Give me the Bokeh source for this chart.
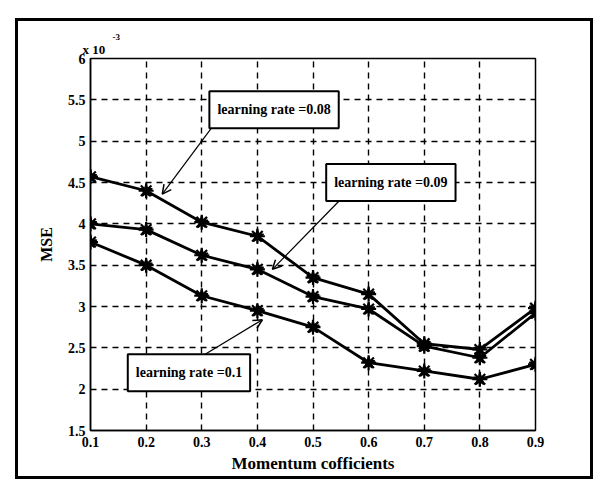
from bokeh.plotting import figure
from bokeh.models import (Range1d, FixedTicker, Label, Arrow, OpenHead,
                          Title, InlineStyleSheet)
from bokeh.embed import file_html
from bokeh.resources import INLINE

# momentum coefficient values on the x axis
momentum = [0.1, 0.2, 0.3, 0.4, 0.5, 0.6, 0.7, 0.8, 0.9]

# MSE (x 10^-3) for each learning rate
mse_lr008 = [4.57, 4.40, 4.02, 3.85, 3.35, 3.15, 2.55, 2.48, 2.98]
mse_lr009 = [4.00, 3.93, 3.62, 3.45, 3.12, 2.97, 2.52, 2.38, 2.92]
mse_lr010 = [3.78, 3.50, 3.13, 2.95, 2.75, 2.32, 2.22, 2.12, 2.30]

x_ticks = [0.1, 0.2, 0.3, 0.4, 0.5, 0.6, 0.7, 0.8, 0.9]
y_ticks = [1.5, 2, 2.5, 3, 3.5, 4, 4.5, 5, 5.5, 6]

SERIF = "Liberation Serif"

p = figure(width=597, height=483, output_backend="svg", toolbar_location=None,
           x_range=Range1d(0.1, 0.9), y_range=Range1d(1.5, 6.0),
           min_border_left=90, min_border_right=62,
           min_border_top=58, min_border_bottom=53)
p.background_fill_color = "white"
p.border_fill_color = "white"
p.outline_line_color = "black"
p.outline_line_width = 1.5

for ax in (p.xaxis[0], p.yaxis[0]):
    ax.axis_line_color = "black"
    ax.axis_line_width = 1.5
    ax.major_tick_in = 5
    ax.major_tick_out = 0
    ax.minor_tick_line_color = None
    ax.major_tick_line_color = "black"
    ax.major_label_text_font = SERIF
    ax.major_label_text_font_style = "bold"
    ax.major_label_text_font_size = "14px"
    ax.major_label_text_color = "black"
    ax.axis_label_text_font = SERIF
    ax.axis_label_text_font_style = "bold"
    ax.axis_label_text_color = "black"

p.xaxis.ticker = FixedTicker(ticks=x_ticks)
p.yaxis.ticker = FixedTicker(ticks=y_ticks)
p.xaxis.major_label_overrides = {t: f"{t:.1f}" for t in x_ticks}
p.yaxis.major_label_overrides = {t: (f"{t:g}") for t in y_ticks}
p.xaxis.axis_label = "Momentum cofficients"
p.yaxis.axis_label = "MSE"
p.xaxis.axis_label_text_font_size = "17px"
p.yaxis.axis_label_text_font_size = "16px"
p.xaxis.major_label_standoff = 6
p.yaxis.major_label_standoff = 5
p.xaxis.axis_label_standoff = 4
p.yaxis.axis_label_standoff = 10

p.grid.grid_line_color = "black"
p.grid.grid_line_dash = "6 5"
p.grid.grid_line_width = 1.4
p.xgrid.ticker = FixedTicker(ticks=x_ticks)
p.ygrid.ticker = FixedTicker(ticks=y_ticks)

for ys in (mse_lr008, mse_lr009, mse_lr010):
    p.line(momentum, ys, line_color="black", line_width=2.8)
    p.scatter(momentum, ys, marker="star", size=13, fill_color="black",
              line_color="black", line_width=1.5)
    p.scatter(momentum, ys, marker="asterisk", size=15,
              line_color="black", line_width=2.2)

# exponent note above the y axis: superscript sits on the outer row
p.title = Title(text="-3", align="left", offset=22, standoff=-4,
                text_font=SERIF, text_font_size="9px",
                text_font_style="bold", text_color="black")
p.add_layout(Title(text="x 10", align="left", offset=-8, standoff=4,
                   text_font=SERIF, text_font_size="13px",
                   text_font_style="bold", text_color="black"), "above")

# callout boxes with arrows pointing at each curve
callouts = [
    ("learning rate =0.08", 0.43, 5.38, (0.321, 5.19), (0.229, 4.36)),
    ("learning rate =0.09", 0.64, 4.50, (0.546, 4.27), (0.427, 3.45)),
    ("learning rate =0.1", 0.277, 2.20, (0.298, 2.39), (0.409, 2.84)),
]
for text, cx, cy, start, end in callouts:
    p.add_layout(Arrow(x_start=start[0], y_start=start[1],
                       x_end=end[0], y_end=end[1],
                       line_color="black", line_width=1.2,
                       end=OpenHead(size=9, line_color="black",
                                    line_width=1.5)))
    p.add_layout(Label(x=cx, y=cy, text=text, text_align="center",
                       text_baseline="middle", text_font=SERIF,
                       text_font_size="14px", text_font_style="bold",
                       text_color="black", padding=(8, 11),
                       border_line_color="black", border_line_width=2,
                       background_fill_color="white"))

# page frame drawn around the whole figure
p.stylesheets = [InlineStyleSheet(css="""
:host { position: relative; }
:host::after {
  content: "";
  position: absolute;
  left: 15px; top: 18px; width: 572px; height: 455px;
  border: 3px solid black;
  pointer-events: none;
  z-index: 10;
}
""")]

open("out.html", "w").write(file_html(p, INLINE))
